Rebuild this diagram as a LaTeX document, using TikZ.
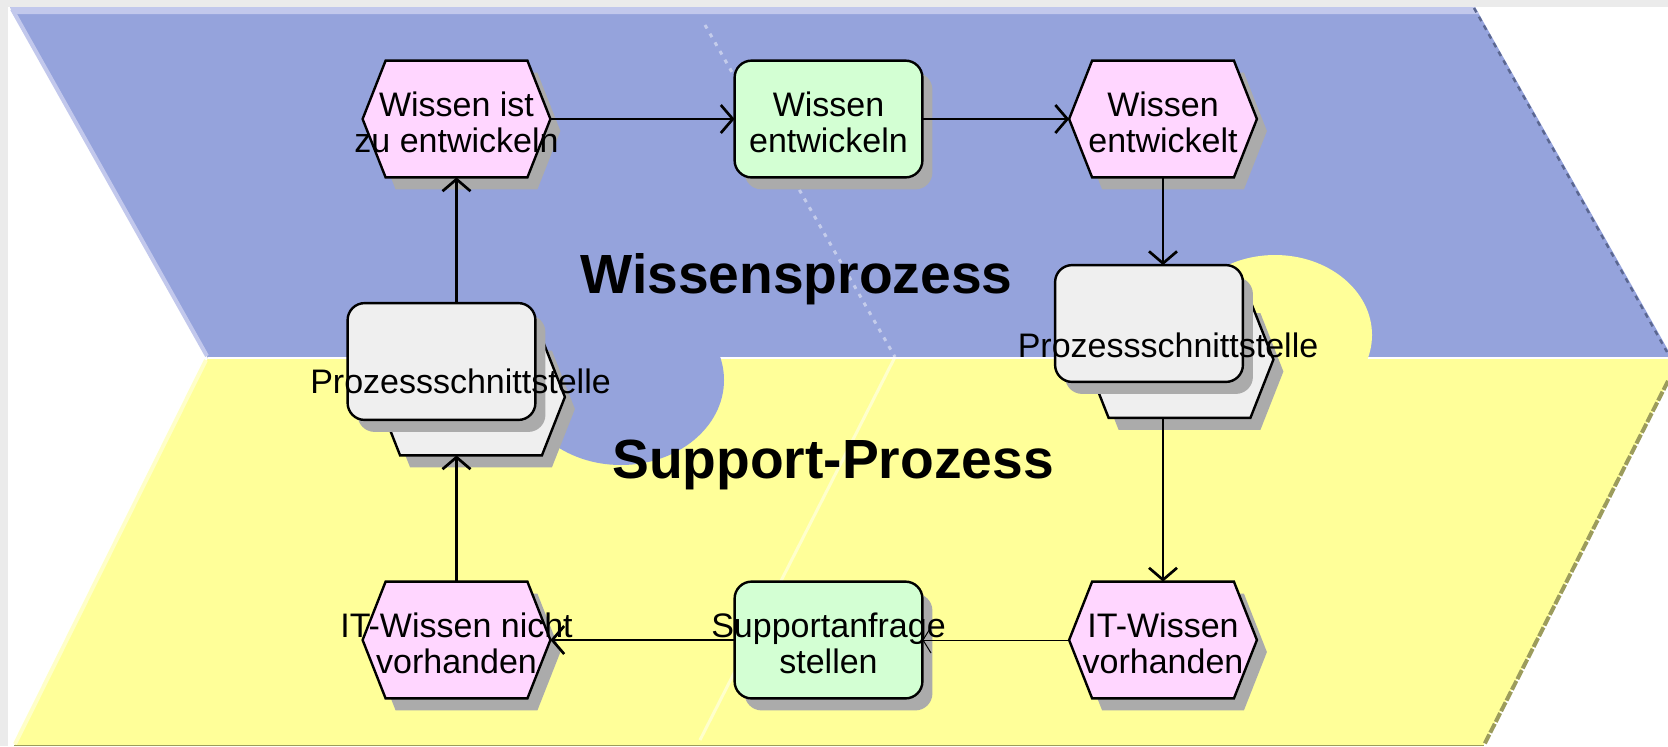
\documentclass[tikz,border=0pt]{standalone}
\usepackage{fontspec}
\setmainfont{Liberation Sans}
\usetikzlibrary{arrows.meta,calc}
\pgfdeclarelayer{back}
\pgfdeclarelayer{shapes}
\pgfsetlayers{back,shapes,main}

\definecolor{framegray}{HTML}{EBEBEB}
\definecolor{bandblue}{HTML}{95A3DC}
\definecolor{bandtop}{HTML}{C2C8EC}
\definecolor{bandyellow}{HTML}{FFFF99}
\definecolor{yellowedge}{HTML}{FFFFC8}
\definecolor{edgeblue}{HTML}{5B6791}
\definecolor{edgeolive}{HTML}{9C9C5C}
\definecolor{evfill}{HTML}{FFD6FF}
\definecolor{fnfill}{HTML}{D3FFD3}
\definecolor{psfill}{HTML}{EFEFEF}
\definecolor{shadowc}{HTML}{ABABAB}

% a centred line of text that does not widen its node
\newcommand\zl[1]{\makebox[0pt]{#1}}

\tikzset{
  x=0.5pt, y=-0.5pt,
  box/.style={minimum width=93.5pt, minimum height=58pt, inner sep=0pt,
    text height=33pt, text depth=0pt, align=center, font=\fontsize{17}{18}\selectfont},
  pslabel/.style={anchor=base, inner sep=0pt, font=\fontsize{17}{18}\selectfont},
  title/.style={anchor=base, inner sep=0pt, font=\fontsize{27.6}{30}\selectfont\bfseries},
  outline/.style={draw=black, line width=1.2pt},
  arr/.style={line width=1.35pt, -{Straight Barb[length=6pt,width=14pt]}},
  thinarr/.style={line width=0.5pt, -{Straight Barb[length=4pt,width=13pt]}},
}

% event: hexagon pointed left and right, with drop shadow
\newcommand\evshape[2]{%
  \fill[shadowc] ($(#1.west)+(10,12)$) -- ($(#1.north west)+(33,12)$)
    -- ($(#1.north east)+(-13,12)$) -- ($(#1.east)+(10,12)$)
    -- ($(#1.south east)+(-13,12)$) -- ($(#1.south west)+(33,12)$) -- cycle;
  \draw[outline, fill=#2] (#1.west) -- ($(#1.north west)+(23,0)$)
    -- ($(#1.north east)+(-23,0)$) -- (#1.east)
    -- ($(#1.south east)+(-23,0)$) -- ($(#1.south west)+(23,0)$) -- cycle;}
% function: rounded box with drop shadow
\newcommand\fnshape[2]{%
  \fill[shadowc, rounded corners=8.5pt] ($(#1.south west)+(10,12)$) rectangle ($(#1.north east)+(10,12)$);
  \draw[outline, fill=#2, rounded corners=8.5pt] (#1.south west) rectangle (#1.north east);}

\begin{document}
\begin{tikzpicture}
\useasboundingbox (0,0) rectangle (1668,746);

% process bands
\begin{pgfonlayer}{back}
  \fill[framegray] (0,0) rectangle (1668,746);
  \fill[white] (8,7) rectangle (1668,746);
  \fill[bandblue] (10,7) -- (1475,7) -- (1668,350) -- (1668,358) -- (208,358) -- cycle;
  \fill[bandtop] (10,7) -- (1475,7) -- (1479,14) -- (14,14) -- cycle;
  \draw[bandtop, line width=2pt] (12,9) -- (207,356);
  \fill[bandyellow] (208,358) -- (1668,358) -- (1668,382) -- (1483,746) -- (14,746) -- cycle;
  \draw[yellowedge, line width=2pt] (206,360) -- (15,744);
  \draw[white, line width=1pt] (208,358) -- (1668,358);
  \fill[bandblue] (621,380) ellipse [x radius=51.5pt, y radius=42.5pt];
  \fill[bandyellow] (1275,335) ellipse [x radius=48.5pt, y radius=40pt];
  \draw[white, opacity=0.45, line width=1.5pt, dash pattern=on 2pt off 3pt] (705,25) -- (895,357);
  \draw[white, opacity=0.5, line width=1.5pt] (895,357) -- (700,740);
  \draw[edgeblue, line width=1.2pt, dash pattern=on 2.5pt off 2.5pt] (1474,8) -- (1667,352);
  \draw[edgeolive, line width=2pt, dash pattern=on 5pt off 1pt] (1668,381) -- (1484,745);
  \draw[edgeolive, line width=0.5pt] (14,745.5) -- (1484,745.5);
\end{pgfonlayer}

% nodes
\node[box] (n1) at (456.5,119) {\zl{Wissen ist}\\\zl{zu entwickeln}};
\node[box] (n2) at (828.5,119) {\zl{Wissen}\\\zl{entwickeln}};
\node[box] (n3) at (1163,119) {\zl{Wissen}\\\zl{entwickelt}};
\node[box] (b1) at (456.5,640) {\zl{IT-Wissen nicht}\\\zl{vorhanden}};
\node[box] (b2) at (828.5,640) {\zl{Supportanfrage}\\\zl{stellen}};
\node[box] (b3) at (1163,640) {\zl{IT-Wissen}\\\zl{vorhanden}};
\node[box] (psLh) at (471,397) {};
\node[box] (psLr) at (441.5,361.5) {};
\node[box] (psRh) at (1179.5,359.5) {};
\node[box] (psRr) at (1149,323.5) {};
\node[pslabel] (psLt) at (460.5,393) {Prozessschnittstelle};
\node[pslabel] (psRt) at (1168,357) {Prozessschnittstelle};

\node[title] (tW) at (796.5,293) {Wissensprozess};
\node[title] (tS) at (833,478) {Support-Prozess};

\begin{pgfonlayer}{shapes}
  \evshape{n1}{evfill}
  \fnshape{n2}{fnfill}
  \evshape{n3}{evfill}
  \evshape{b1}{evfill}
  \fnshape{b2}{fnfill}
  \evshape{b3}{evfill}
  \evshape{psLh}{psfill}
  \fnshape{psLr}{psfill}
  \evshape{psRh}{psfill}
  \fnshape{psRr}{psfill}
\end{pgfonlayer}

% control flow
\draw[arr] (n1.east) -- (n2.west);
\draw[arr] (n2.east) -- (n3.west);
\draw[arr] (n3.south) -- (n3.south |- psRr.north);
\draw[arr] (psRh.south -| b3.north) -- (b3.north);
\draw[thinarr] (b3.west) -- (b2.east);
\draw[arr] (b2.west) -- (b1.east);
\draw[arr] (b1.north) -- (psLh.south -| b1.north);
\draw[arr] (psLr.north -| n1.south) -- (n1.south);
\end{tikzpicture}
\end{document}
